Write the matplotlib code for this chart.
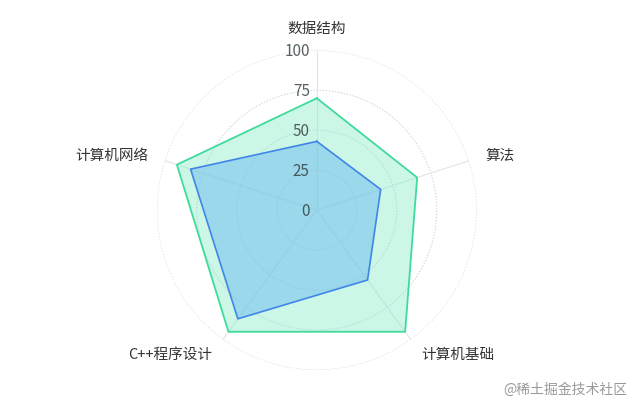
import numpy as np
import matplotlib
matplotlib.use("Agg")
import matplotlib.pyplot as plt
import matplotlib.transforms as mtransforms

plt.rcParams['font.family'] = ['Noto Sans CJK SC', 'DejaVu Sans']

categories = ['数据结构', '算法', '计算机基础', 'C++程序设计', '计算机网络']
series_green = [70, 66, 94, 94, 92]
series_blue = [43, 42, 54, 84, 83]
r_ticks = [0, 25, 50, 75, 100]
r_tick_labels = ['0', '25', '50', '75', '100']

fig = plt.figure(figsize=(6.4, 4.1), dpi=100)
fig.patch.set_facecolor('white')
ax = fig.add_axes([0.245, 0.095, 0.5, 0.78], projection='polar')
ax.set_theta_zero_location('N')
ax.set_theta_direction(-1)
ax.set_ylim(0, 100)

n = len(categories)
angles = np.linspace(0, 2 * np.pi, n, endpoint=False)

ax.set_xticks(angles)
ax.set_xticklabels([])
ax.set_yticks(r_ticks)
ax.set_yticklabels([])
ax.spines['polar'].set_visible(False)
ax.grid(False)

# circles
th = np.linspace(0, 2 * np.pi, 400)
for v in r_ticks[1:]:
    ax.plot(th, np.full_like(th, v), color='#cfd4e4', lw=0.8, ls=(0, (1.2, 1.5)), zorder=1)
# spokes
for a in angles:
    ax.plot([a, a], [0, 100], color='#e2e4ea', lw=0.8, zorder=1)

def closed(vals):
    return np.append(angles, angles[0]), np.append(vals, vals[0])

ta, va = closed(series_green)
ax.fill(ta, va, color='#86eac4', alpha=0.42, zorder=2, lw=0)
ax.plot(ta, va, color='#3fdb9a', lw=1.3, zorder=3)

tb, vb = closed(series_blue)
ax.fill(tb, vb, color='#70bdf0', alpha=0.52, zorder=4, lw=0)
ax.plot(tb, vb, color='#3f86e8', lw=1.2, zorder=5)

# radial tick labels
off = mtransforms.offset_copy(ax.transData, fig=fig, x=-7, y=0, units='dots')
for v, lab in zip(r_ticks, r_tick_labels):
    ax.text(0, v, lab, transform=off, ha='right', va='center', fontsize=11,
            color='#2e3a3a', alpha=0.8, zorder=6)

# category labels
for a, lab in zip(angles, categories):
    s = np.sin(a)
    if abs(s) < 1e-6:
        ha = 'center'
        r = 114
    elif s > 0:
        ha = 'left'
        r = 111
    else:
        ha = 'right'
        r = 111
    ax.text(a, r, lab, ha=ha, va='center', fontsize=10.5, color='#333333')

fig.text(0.98, 0.05, '@稀土掘金技术社区', ha='right', va='center', fontsize=10,
         color='#999999')

fig.savefig('out.png', dpi=100, facecolor='white')
